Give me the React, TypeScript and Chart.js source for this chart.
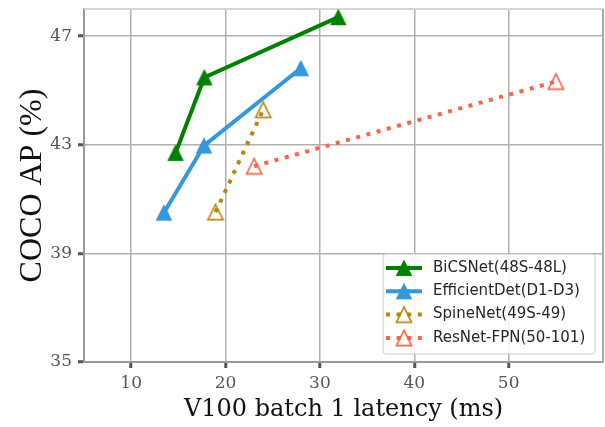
import React, { useEffect, useRef } from 'react';
import { Chart, registerables } from 'chart.js';

Chart.register(...registerables);

const SERIES_NAMES = ['BiCSNet(48S-48L)', 'EfficientDet(D1-D3)', 'SpineNet(49S-49)', 'ResNet-FPN(50-101)'];
const BICSNET_LATENCY = [14.7, 17.75, 31.95];
const BICSNET_AP = [42.7, 45.48, 47.7];
const EFFDET_LATENCY = [13.47, 17.72, 27.97];
const EFFDET_AP = [40.5, 42.97, 45.82];
const SPINENET_LATENCY = [18.94, 23.99];
const SPINENET_AP = [40.52, 44.29];
const RESNET_LATENCY = [23.03, 55.0];
const RESNET_AP = [42.21, 45.33];
const X_TICKS = [10, 20, 30, 40, 50];
const Y_TICKS = [35, 39, 43, 47];

const COLORS = ['#008000', '#3498DB', '#B8860B', '#FF6347'];
const FILLED = [true, true, false, false];
const DASHED = [false, false, true, true];
const DOT_DASH = [4, 6.6];

function pts(xs: number[], ys: number[]) {
  return xs.map((x, i) => ({ x, y: ys[i] }));
}

// matplotlib-style '^' marker (width == height, centred on its bounding box)
function makeMarker(color: string, filled: boolean): HTMLCanvasElement {
  const size = 20;
  const c = size / 2;
  const h = 7.6;
  const cv = document.createElement('canvas');
  cv.width = size;
  cv.height = size;
  const ctx = cv.getContext('2d') as CanvasRenderingContext2D;
  ctx.beginPath();
  ctx.moveTo(c, c - h);
  ctx.lineTo(c + h, c + h);
  ctx.lineTo(c - h, c + h);
  ctx.closePath();
  ctx.lineJoin = 'miter';
  ctx.strokeStyle = color;
  if (filled) {
    ctx.fillStyle = color;
    ctx.fill();
    ctx.lineWidth = 1;
  } else {
    ctx.lineWidth = 1.6;
  }
  ctx.stroke();
  return cv;
}

const framePlugin = {
  id: 'frameAndLegend',
  beforeDatasetsDraw(chart: any) {
    const { ctx, chartArea } = chart;
    ctx.save();
    ctx.lineWidth = 2;
    ctx.strokeStyle = '#d6d6d6';
    ctx.beginPath();
    ctx.moveTo(chartArea.left, chartArea.top);
    ctx.lineTo(chartArea.right, chartArea.top);
    ctx.stroke();
    ctx.strokeStyle = '#a8a8a8';
    ctx.beginPath();
    ctx.moveTo(chartArea.right, chartArea.top);
    ctx.lineTo(chartArea.right, chartArea.bottom);
    ctx.stroke();
    ctx.restore();
  },
  afterDraw(chart: any) {
    const { ctx, chartArea } = chart;
    const bx = chartArea.right - 220;
    const by = chartArea.bottom - 108;
    const bw = 212;
    const bh = 100;
    ctx.save();
    ctx.fillStyle = 'rgba(255,255,255,0.85)';
    ctx.strokeStyle = '#cccccc';
    ctx.lineWidth = 1;
    ctx.beginPath();
    const rr = 3;
    ctx.moveTo(bx + rr, by);
    ctx.lineTo(bx + bw - rr, by);
    ctx.arcTo(bx + bw, by, bx + bw, by + rr, rr);
    ctx.lineTo(bx + bw, by + bh - rr);
    ctx.arcTo(bx + bw, by + bh, bx + bw - rr, by + bh, rr);
    ctx.lineTo(bx + rr, by + bh);
    ctx.arcTo(bx, by + bh, bx, by + bh - rr, rr);
    ctx.lineTo(bx, by + rr);
    ctx.arcTo(bx, by, bx + rr, by, rr);
    ctx.closePath();
    ctx.fill();
    ctx.stroke();

    chart.data.datasets.forEach((ds: any, i: number) => {
      const cy = by + 14 + i * 23.3;
      const x0 = bx + 3;
      const x1 = bx + 39;
      ctx.save();
      ctx.strokeStyle = COLORS[i];
      ctx.lineWidth = 4;
      ctx.lineCap = 'butt';
      ctx.setLineDash(DASHED[i] ? DOT_DASH : []);
      ctx.beginPath();
      ctx.moveTo(x0, cy);
      ctx.lineTo(x1, cy);
      ctx.stroke();
      ctx.setLineDash([]);
      const img = ds.pointStyle as HTMLCanvasElement;
      ctx.drawImage(img, (x0 + x1) / 2 - img.width / 2, cy - img.height / 2);
      ctx.restore();
      ctx.fillStyle = '#262626';
      ctx.font = '15px "DejaVu Sans"';
      ctx.textBaseline = 'middle';
      ctx.textAlign = 'left';
      ctx.fillText(ds.label, bx + 50, cy);
    });
    ctx.restore();
  },
};

function zeroPad(scale: any) {
  scale.paddingTop = 0;
  scale.paddingBottom = 0;
  scale.paddingLeft = 0;
  scale.paddingRight = 0;
}

export default function App() {
  const ref = useRef<HTMLCanvasElement | null>(null);

  useEffect(() => {
    if (!ref.current) return;
    const series = [
      pts(BICSNET_LATENCY, BICSNET_AP),
      pts(EFFDET_LATENCY, EFFDET_AP),
      pts(SPINENET_LATENCY, SPINENET_AP),
      pts(RESNET_LATENCY, RESNET_AP),
    ];
    const datasets = series.map((data, i) => ({
      label: SERIES_NAMES[i],
      data,
      showLine: true,
      borderColor: COLORS[i],
      borderWidth: 4,
      borderDash: DASHED[i] ? DOT_DASH : [],
      borderCapStyle: 'butt' as const,
      pointStyle: makeMarker(COLORS[i], FILLED[i]) as any,
      pointRadius: 9,
      pointHoverRadius: 9,
      pointBackgroundColor: COLORS[i],
      pointBorderColor: COLORS[i],
      backgroundColor: COLORS[i],
      fill: false,
      tension: 0,
      clip: false as any,
    }));

    const chart = new Chart(ref.current, {
      type: 'line',
      data: { datasets },
      options: {
        animation: false,
        responsive: false,
        layout: { autoPadding: false, padding: { left: 0, top: 9, right: 2, bottom: 0 } },
        plugins: { legend: { display: false }, tooltip: { enabled: false } },
        scales: {
          x: {
            type: 'linear',
            min: 5,
            max: 60,
            afterBuildTicks: (scale: any) => {
              scale.ticks = X_TICKS.map((v) => ({ value: v }));
            },
            afterFit: (scale: any) => {
              scale.height = 65;
              zeroPad(scale);
            },
            grid: {
              color: '#b0b0b0',
              lineWidth: 1.5,
              tickColor: '#555555',
              tickWidth: 3,
              tickLength: 6,
            },
            border: { display: true, color: '#9a9a9a', width: 2 },
            ticks: {
              color: '#555555',
              padding: 5,
              font: { family: '"DejaVu Serif"', size: 17 },
              maxRotation: 0,
            },
            title: {
              display: true,
              text: 'V100 batch 1 latency (ms)',
              color: '#111111',
              font: { family: '"DejaVu Serif"', size: 24 },
              padding: { top: 0, bottom: 3 },
            },
          },
          y: {
            type: 'linear',
            min: 35,
            max: 48,
            afterBuildTicks: (scale: any) => {
              scale.ticks = Y_TICKS.map((v) => ({ value: v }));
            },
            afterFit: (scale: any) => {
              scale.width = 84;
              zeroPad(scale);
            },
            grid: {
              color: '#b0b0b0',
              lineWidth: 1.5,
              tickColor: '#555555',
              tickWidth: 3,
              tickLength: 6,
            },
            border: { display: true, color: '#9a9a9a', width: 2 },
            ticks: {
              color: '#555555',
              padding: 6,
              font: { family: '"DejaVu Serif"', size: 17 },
            },
            title: {
              display: true,
              text: 'COCO AP (%)',
              color: '#111111',
              font: { family: '"Liberation Serif"', size: 32 },
              padding: { top: 13, bottom: 0 },
            },
          },
        },
      },
      plugins: [framePlugin],
    });
    return () => chart.destroy();
  }, []);

  return (
    <div style={{ position: 'absolute', left: 0, top: 0, width: 605, height: 427, background: '#fff' }}>
      <canvas ref={ref} width={605} height={427} style={{ display: 'block' }} />
    </div>
  );
}
